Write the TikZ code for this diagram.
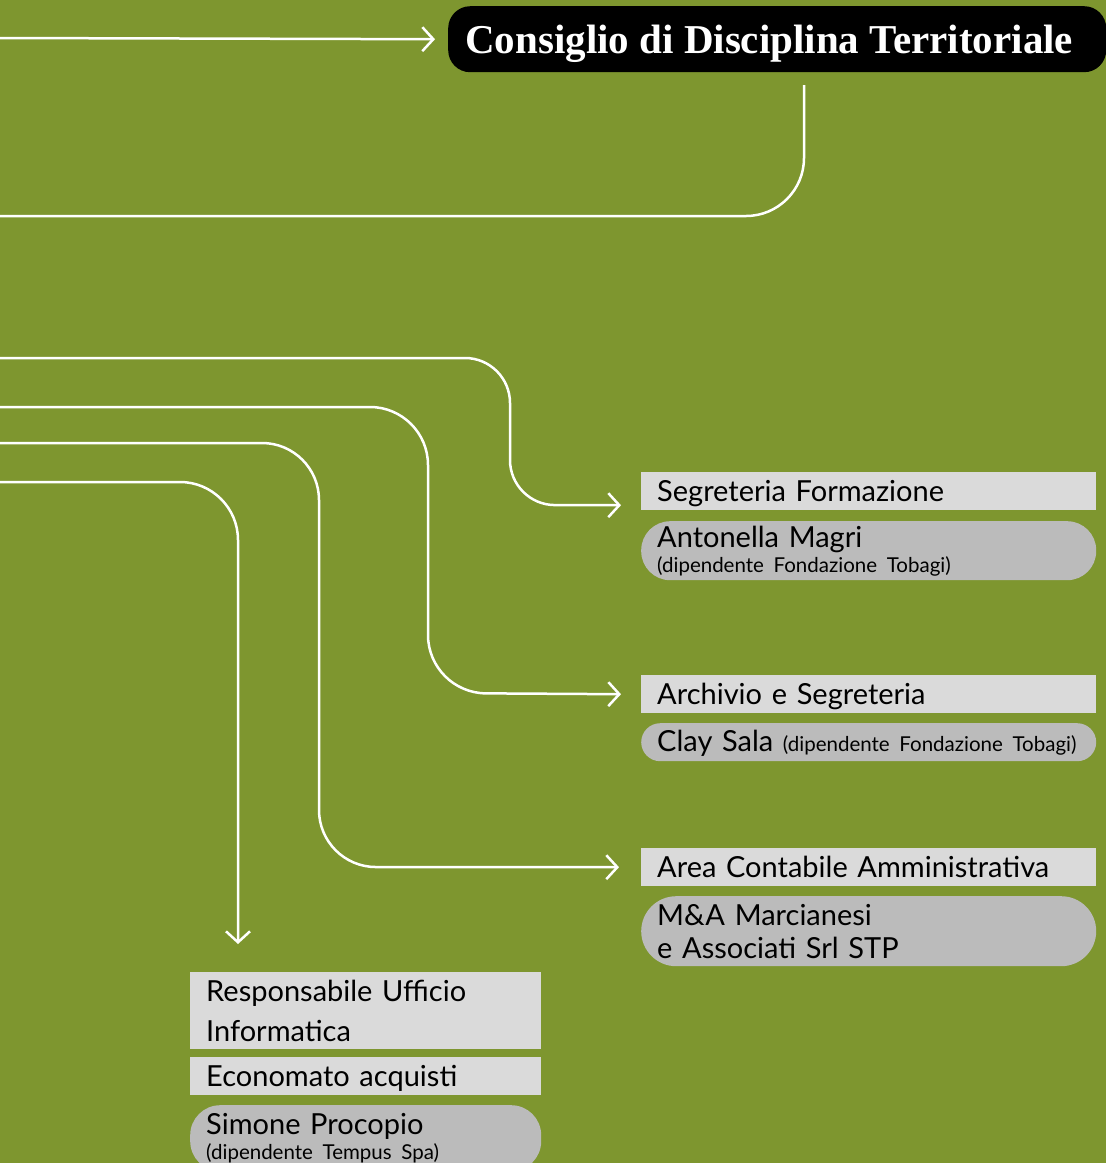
\documentclass[tikz,border=0pt]{standalone}
\usepackage{fontspec}
\setmainfont{Lato}
\newfontfamily\titlefont{Liberation Serif}
\usetikzlibrary{arrows.meta}

\definecolor{olive}{HTML}{7E962F}
\definecolor{lightbox}{HTML}{DADADA}
\definecolor{pillbox}{HTML}{BBBBBB}
\newcommand{\deptfont}{\fontsize{29}{33}\selectfont}
\newcommand{\notefont}{\fontsize{20.5}{22}\selectfont}

\tikzset{
  deptbox/.style={fill=lightbox, anchor=north west, minimum height=38pt, text width=423pt,
    inner xsep=16pt, inner ysep=0pt, align=left, font=\deptfont},
  onerow/.style={text height=25pt, text depth=5pt},
  namepill/.style={deptbox, fill=pillbox, rounded corners=#1},
  link/.style={draw=white, line width=2.5pt},
  conn/.style={link, -{Straight Barb[length=11pt,width=24pt]}}
}

\begin{document}
\begin{tikzpicture}[x=1pt,y=-1pt]
  \fill[olive] (0,0) rectangle (1106,1163);
  \useasboundingbox (0,0) rectangle (1106,1163);
  \clip (0,0) rectangle (1106,1163);

  % title
  \node[fill=black, text=white, rounded corners=22pt, anchor=north west, minimum width=658pt,
    minimum height=66pt, inner sep=0pt, text height=34pt, text depth=6pt,
    font=\titlefont\bfseries\fontsize{41}{44}\selectfont] (cdt) at (448,6)
    {Consiglio di Disciplina Territoriale\hspace*{16pt}};

  % offices on the right
  \node[deptbox, onerow] (segr) at (641,472) {Segreteria Formazione};
  \node[namepill=29pt, minimum height=59pt] (magri) at (641,521)
    {Antonella Magri\\[-8pt]{\notefont (dipendente Fondazione Tobagi)}};
  \node[deptbox, onerow] (arch) at (641,675) {Archivio e Segreteria};
  \node[namepill=19pt, onerow, text depth=7pt] (sala) at (641,723)
    {Clay Sala {\notefont (dipendente Fondazione Tobagi)}};
  \node[deptbox, onerow] (area) at (641,848) {Area Contabile Amministrativa};
  \node[namepill=35pt, minimum height=70pt] (marc) at (641,896) {M\&A Marcianesi\\e Associati Srl STP};

  % offices below
  \node[deptbox, text width=319pt, minimum height=77pt, font=\fontsize{29}{40}\selectfont] (resp) at (190,972)
    {Responsabile Ufficio\\Informatica};
  \node[deptbox, onerow, text width=319pt] (econ) at (190,1057) {Economato acquisti};
  \node[namepill=30pt, text width=319pt, minimum height=66pt] (proc) at (190,1105)
    {Simone Procopio\\[-8pt]{\notefont (dipendente Tempus Spa)}};

  % free ends on the left edge
  \coordinate (in0) at (0,38);
  \coordinate (out0) at (0,216);
  \coordinate (cdtout) at (804,85);
  \coordinate (in1) at (0,358);
  \coordinate (in2) at (0,407);
  \coordinate (in3) at (0,443);
  \coordinate (in4) at (0,482);

  % connectors
  \draw[conn] (in0) -- ([xshift=-13pt]cdt.west);
  \draw[link, rounded corners=58pt] (cdtout) |- (out0);
  \draw[conn, rounded corners=45pt] (in1) -| (510,505) -- ([shift={(-20pt,-14pt)}]segr.west);
  \draw[conn, rounded corners=58pt] (in2) -| (428,693) -- ([xshift=-20pt]arch.west);
  \draw[conn, rounded corners=57pt] (in3) -| (319,867) -- ([xshift=-22pt]area.west);
  \draw[conn, rounded corners=58pt] (in4) -| ([shift={(48pt,28pt)}]resp.north west);
\end{tikzpicture}
\end{document}
